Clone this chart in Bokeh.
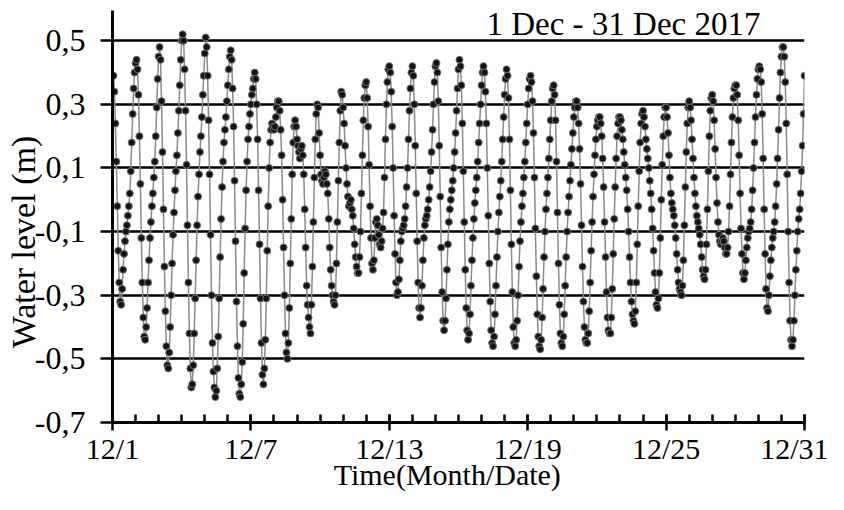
from bokeh.plotting import figure
from bokeh.models import Range1d, FixedTicker, Label
from bokeh.embed import file_html
from bokeh.resources import INLINE

# Hourly water level (m), 1 Dec 2017 00:00 - 31 Dec 2017 00:00, one list per day
dec01 = [0.34, 0.39, 0.34, 0.24, 0.12, -0.02, -0.16, -0.26, -0.32, -0.33, -0.28, -0.22, -0.17, -0.13, -0.10, -0.08, -0.05, -0.02, 0.02, 0.09, 0.18, 0.27, 0.35, 0.40]
dec02 = [0.43, 0.44, 0.41, 0.33, 0.20, 0.05, -0.12, -0.26, -0.37, -0.43, -0.44, -0.40, -0.34, -0.26, -0.19, -0.12, -0.07, -0.02, 0.02, 0.07, 0.12, 0.20, 0.29, 0.38]
dec03 = [0.45, 0.48, 0.44, 0.31, 0.15, -0.03, -0.21, -0.35, -0.46, -0.52, -0.53, -0.48, -0.40, -0.30, -0.20, -0.11, -0.04, 0.03, 0.09, 0.14, 0.21, 0.28, 0.36, 0.44]
dec04 = [0.50, 0.52, 0.50, 0.41, 0.28, 0.11, -0.08, -0.26, -0.42, -0.53, -0.59, -0.58, -0.52, -0.42, -0.31, -0.19, -0.08, 0.01, 0.08, 0.15, 0.20, 0.26, 0.33, 0.39]
dec05 = [0.46, 0.51, 0.48, 0.39, 0.25, 0.08, -0.11, -0.30, -0.45, -0.54, -0.59, -0.62, -0.60, -0.53, -0.43, -0.31, -0.18, -0.06, 0.04, 0.12, 0.18, 0.22, 0.26, 0.31]
dec06 = [0.36, 0.41, 0.45, 0.47, 0.44, 0.35, 0.23, 0.06, -0.13, -0.32, -0.46, -0.56, -0.61, -0.62, -0.58, -0.51, -0.39, -0.23, -0.09, 0.03, 0.12, 0.19, 0.23, 0.27]
dec07 = [0.30, 0.33, 0.35, 0.38, 0.40, 0.38, 0.30, 0.19, 0.03, -0.14, -0.31, -0.45, -0.55, -0.58, -0.53, -0.44, -0.31, -0.16, -0.02, 0.10, 0.18, 0.22, 0.24, 0.23]
dec08 = [0.22, 0.23, 0.26, 0.29, 0.31, 0.31, 0.28, 0.22, 0.14, 0.00, -0.15, -0.30, -0.42, -0.48, -0.50, -0.45, -0.34, -0.20, -0.06, 0.08, 0.18, 0.23, 0.25, 0.23]
dec09 = [0.19, 0.17, 0.15, 0.13, 0.16, 0.17, 0.14, 0.08, -0.03, -0.15, -0.27, -0.33, -0.37, -0.40, -0.42, -0.33, -0.21, -0.07, 0.07, 0.19, 0.27, 0.30, 0.29, 0.21]
dec10 = [0.14, 0.08, 0.06, 0.05, 0.07, 0.09, 0.08, 0.05, 0.02, -0.06, -0.15, -0.22, -0.27, -0.30, -0.32, -0.33, -0.30, -0.20, -0.07, 0.06, 0.18, 0.28, 0.34, 0.33]
dec11 = [0.29, 0.24, 0.17, 0.10, 0.05, 0.01, -0.02, -0.01, 0.00, -0.03, -0.05, -0.09, -0.14, -0.18, -0.21, -0.23, -0.23, -0.18, -0.10, 0.02, 0.14, 0.25, 0.32, 0.36]
dec12 = [0.37, 0.32, 0.23, 0.11, -0.02, -0.12, -0.20, -0.22, -0.19, -0.12, -0.07, -0.06, -0.08, -0.11, -0.14, -0.15, -0.13, -0.09, -0.04, 0.07, 0.19, 0.30, 0.37, 0.41]
dec13 = [0.42, 0.40, 0.34, 0.23, 0.10, -0.05, -0.17, -0.26, -0.30, -0.29, -0.25, -0.19, -0.13, -0.10, -0.09, -0.08, -0.06, -0.02, 0.04, 0.10, 0.19, 0.28, 0.35, 0.40]
dec14 = [0.42, 0.39, 0.30, 0.17, 0.02, -0.13, -0.26, -0.34, -0.37, -0.34, -0.27, -0.19, -0.12, -0.08, -0.06, -0.05, -0.03, 0.00, 0.04, 0.09, 0.15, 0.22, 0.30, 0.37]
dec15 = [0.42, 0.43, 0.40, 0.31, 0.17, 0.01, -0.15, -0.29, -0.38, -0.41, -0.38, -0.31, -0.22, -0.14, -0.07, -0.03, 0.00, 0.03, 0.06, 0.10, 0.15, 0.21, 0.28, 0.35]
dec16 = [0.41, 0.44, 0.42, 0.36, 0.24, 0.09, -0.07, -0.22, -0.34, -0.41, -0.44, -0.42, -0.36, -0.27, -0.19, -0.12, -0.06, -0.01, 0.03, 0.07, 0.12, 0.18, 0.24, 0.30]
dec17 = [0.36, 0.40, 0.42, 0.40, 0.34, 0.24, 0.10, -0.05, -0.20, -0.32, -0.41, -0.45, -0.46, -0.43, -0.36, -0.27, -0.18, -0.10, -0.04, 0.01, 0.06, 0.12, 0.19, 0.26]
dec18 = [0.33, 0.38, 0.41, 0.39, 0.32, 0.19, 0.03, -0.14, -0.29, -0.40, -0.45, -0.46, -0.44, -0.38, -0.30, -0.21, -0.13, -0.07, -0.02, 0.02, 0.07, 0.12, 0.18, 0.24]
dec19 = [0.30, 0.35, 0.38, 0.39, 0.37, 0.31, 0.21, 0.07, -0.09, -0.24, -0.36, -0.43, -0.46, -0.47, -0.44, -0.37, -0.28, -0.18, -0.10, -0.03, 0.02, 0.07, 0.13, 0.19]
dec20 = [0.25, 0.31, 0.35, 0.36, 0.33, 0.25, 0.12, -0.04, -0.20, -0.33, -0.42, -0.45, -0.46, -0.43, -0.36, -0.27, -0.18, -0.10, -0.04, 0.01, 0.06, 0.11, 0.16, 0.21]
dec21 = [0.26, 0.29, 0.31, 0.31, 0.29, 0.24, 0.16, 0.05, -0.08, -0.21, -0.32, -0.40, -0.44, -0.45, -0.45, -0.42, -0.35, -0.26, -0.16, -0.07, 0.01, 0.08, 0.14, 0.19]
dec22 = [0.23, 0.25, 0.26, 0.26, 0.24, 0.20, 0.13, 0.04, -0.07, -0.18, -0.29, -0.37, -0.41, -0.42, -0.42, -0.37, -0.28, -0.17, -0.06, 0.04, 0.13, 0.20, 0.24, 0.26]
dec23 = [0.26, 0.25, 0.22, 0.19, 0.15, 0.11, 0.07, 0.03, -0.03, -0.10, -0.18, -0.26, -0.32, -0.36, -0.38, -0.39, -0.35, -0.26, -0.14, -0.02, 0.09, 0.18, 0.24, 0.27]
dec24 = [0.28, 0.26, 0.23, 0.19, 0.16, 0.13, 0.10, 0.06, 0.02, -0.03, -0.09, -0.16, -0.23, -0.29, -0.33, -0.34, -0.31, -0.23, -0.12, 0.00, 0.11, 0.20, 0.26, 0.29]
dec25 = [0.29, 0.26, 0.21, 0.14, 0.07, 0.02, -0.01, -0.03, -0.05, -0.08, -0.12, -0.17, -0.22, -0.26, -0.28, -0.29, -0.30, -0.27, -0.19, -0.08, 0.04, 0.15, 0.24, 0.29]
dec26 = [0.31, 0.29, 0.25, 0.19, 0.13, 0.07, 0.02, -0.02, -0.05, -0.07, -0.09, -0.11, -0.14, -0.18, -0.22, -0.24, -0.25, -0.22, -0.14, -0.03, 0.09, 0.20, 0.28, 0.32]
dec27 = [0.33, 0.31, 0.25, 0.16, 0.07, -0.01, -0.07, -0.11, -0.13, -0.14, -0.13, -0.12, -0.13, -0.15, -0.17, -0.17, -0.15, -0.10, -0.02, 0.08, 0.18, 0.26, 0.32, 0.35]
dec28 = [0.36, 0.36, 0.33, 0.25, 0.14, 0.02, -0.09, -0.17, -0.23, -0.25, -0.23, -0.19, -0.15, -0.12, -0.10, -0.09, -0.07, -0.03, 0.03, 0.10, 0.18, 0.26, 0.33, 0.38]
dec29 = [0.41, 0.42, 0.41, 0.37, 0.27, 0.13, -0.03, -0.17, -0.28, -0.34, -0.35, -0.30, -0.24, -0.19, -0.15, -0.12, -0.10, -0.07, -0.02, 0.05, 0.13, 0.22, 0.32, 0.40]
dec30 = [0.45, 0.48, 0.48, 0.45, 0.37, 0.24, 0.08, -0.10, -0.26, -0.38, -0.44, -0.46, -0.44, -0.38, -0.30, -0.22, -0.16, -0.10, -0.06, -0.03, 0.02, 0.09, 0.17, 0.27]
dec31 = [0.39]

days_lists = [dec01, dec02, dec03, dec04, dec05, dec06, dec07, dec08, dec09, dec10,
              dec11, dec12, dec13, dec14, dec15, dec16, dec17, dec18, dec19, dec20,
              dec21, dec22, dec23, dec24, dec25, dec26, dec27, dec28, dec29, dec30, dec31]

level = [v for d in days_lists for v in d]
time_days = [i / 24.0 for i in range(len(level))]

x_tick_days = [0, 6, 12, 18, 24, 30]
x_tick_labels = ["12/1", "12/7", "12/13", "12/19", "12/25", "12/31"]
y_tick_values = [0.5, 0.3, 0.1, -0.1, -0.3, -0.5, -0.7]
y_tick_labels = ["0,5", "0,3", "0,1", "-0,1", "-0,3", "-0,5", "-0,7"]
title_text = "1 Dec - 31 Dec 2017"
x_label_text = "Time(Month/Date)"
y_label_text = "Water level (m)"

FONT = "Liberation Serif"
NBSP = "\u00a0"
Y_MIN, Y_MAX = -0.7, 0.595

p = figure(width=828, height=494, x_range=Range1d(0, 30), y_range=Range1d(Y_MIN, Y_MAX),
           output_backend="svg", toolbar_location=None,
           min_border_left=112, min_border_right=24, min_border_top=10, min_border_bottom=72)
p.outline_line_color = None
p.background_fill_color = "white"
p.border_fill_color = "white"

p.xgrid.visible = False
p.ygrid.ticker = FixedTicker(ticks=y_tick_values)
p.ygrid.grid_line_color = "black"
p.ygrid.grid_line_width = 2.5

p.xaxis.ticker = FixedTicker(ticks=x_tick_days, minor_ticks=list(range(31)))
p.xaxis.major_label_overrides = {d: l for d, l in zip(x_tick_days, x_tick_labels)}
p.yaxis.ticker = FixedTicker(ticks=y_tick_values, minor_ticks=[])
p.yaxis.major_label_overrides = {v: l for v, l in zip(y_tick_values, y_tick_labels)}

for ax in (p.xaxis[0], p.yaxis[0]):
    ax.axis_line_color = "black"
    ax.axis_line_width = 3
    ax.major_tick_line_color = "black"
    ax.major_tick_line_width = 2.5
    ax.minor_tick_line_color = "black"
    ax.minor_tick_line_width = 2.5
    ax.major_label_text_font = FONT
    ax.major_label_text_color = "black"
    ax.axis_label_text_font = FONT
    ax.axis_label_text_font_style = "normal"
    ax.axis_label_text_color = "black"

p.xaxis.major_label_text_font_size = "30px"
p.xaxis.major_tick_in = 8
p.xaxis.major_tick_out = 8
p.xaxis.minor_tick_in = 8
p.xaxis.minor_tick_out = 0
p.xaxis.major_label_standoff = 1
# trailing no-break spaces nudge the centred title to the left, as in the reference
p.xaxis.axis_label = x_label_text + NBSP * 3
p.xaxis.axis_label_text_font_size = "30px"
p.xaxis.axis_label_standoff = -10

p.yaxis.major_label_text_font_size = "32px"
p.yaxis.major_tick_in = 0
p.yaxis.major_tick_out = 12
p.yaxis.minor_tick_in = 0
p.yaxis.minor_tick_out = 0
p.yaxis.major_label_standoff = 15
# trailing no-break spaces nudge the centred title downward, as in the reference
p.yaxis.axis_label = y_label_text + NBSP * 6
p.yaxis.axis_label_text_font_size = "34px"
p.yaxis.axis_label_standoff = -10

p.line(time_days, level, line_color="#8a8a8a", line_width=1.5)
p.scatter(time_days, level, size=7, fill_color="#141414", line_color="#707070", line_width=1)

# chart title inside the plot, top right
p.add_layout(Label(x=28.09, y=0.553, text=title_text, text_align="right",
                   text_baseline="alphabetic", text_font=FONT, text_font_size="33px",
                   text_color="black"))

open("out.html", "w").write(file_html(p, INLINE))
